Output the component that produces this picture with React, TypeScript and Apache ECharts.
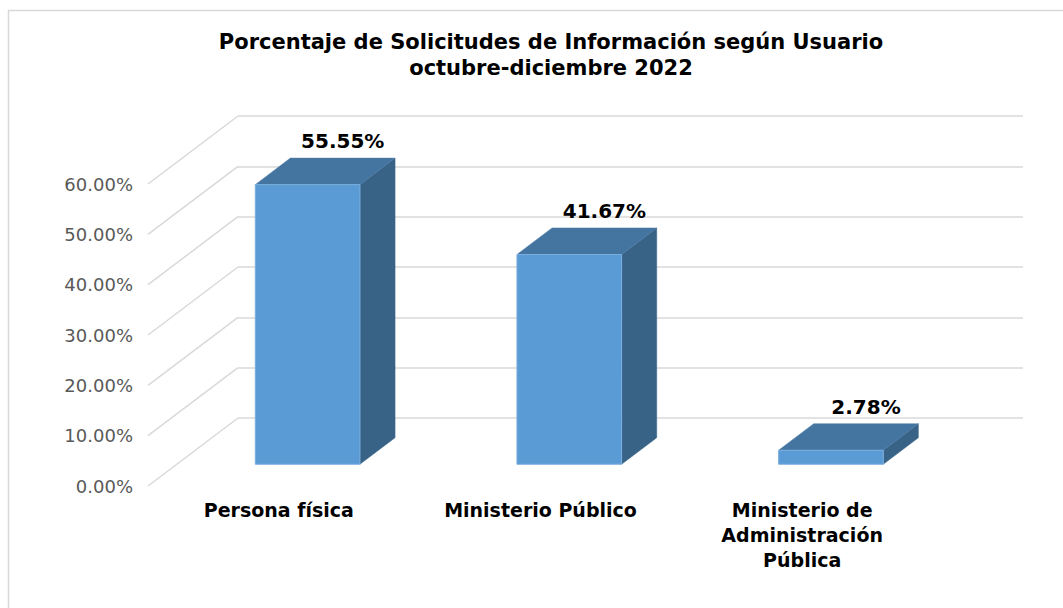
import React, { useEffect, useRef } from "react";
import * as echarts from "echarts";

const categories = ["Persona física", "Ministerio Público", "Ministerio de\nAdministración\nPública"];
const values = [55.55, 41.67, 2.78];
const yTicks = [0, 10, 20, 30, 40, 50, 60];
const titleLines = ["Porcentaje de Solicitudes de Información según Usuario", "octubre-diciembre 2022"];

const FONT = "DejaVu Sans, Verdana, sans-serif";
const DEPTH_X = 90;
const DEPTH_Y = 68;
const FRONT_F = 0.68; // bar front face: fraction of depth from back wall
const BACK_F = 0.29; // bar back face

export default function App() {
  const ref = useRef<HTMLDivElement>(null);
  useEffect(() => {
    if (!ref.current) return;
    const chart = echarts.init(ref.current, null, { renderer: "svg" });
    const option: any = {
      animation: false,
      backgroundColor: "#ffffff",
      title: {
        text: titleLines.join("\n"),
        left: 546,
        top: 24,
        textAlign: "center",
        textStyle: { fontFamily: FONT, fontWeight: "bold", fontSize: 21, lineHeight: 26, color: "#000000" },
      },
      graphic: [
        {
          type: "rect",
          shape: { x: 8.5, y: 10.5, width: 1200, height: 800 },
          style: { fill: "none", stroke: "#d9d9d9", lineWidth: 1.5 },
          silent: true,
        },
      ],
      grid: [
        { left: 238, right: 40, top: 116, bottom: 190 },
        { left: 148, right: 130, top: 184, bottom: 122 },
      ],
      xAxis: [
        {
          gridIndex: 0,
          type: "category",
          data: categories,
          axisLine: { show: false },
          axisTick: { show: false },
          axisLabel: { show: false },
        },
        {
          gridIndex: 1,
          type: "category",
          data: categories,
          axisLine: { show: false },
          axisTick: { show: false },
          axisLabel: {
            margin: 11,
            interval: 0,
            fontFamily: FONT,
            fontWeight: "bold",
            fontSize: 19,
            lineHeight: 25,
            color: "#000000",
          },
        },
      ],
      yAxis: [
        {
          gridIndex: 0,
          type: "value",
          min: 0,
          max: 60,
          interval: 10,
          axisLine: { show: false },
          axisTick: { show: false },
          axisLabel: { show: false },
          splitLine: { show: true, lineStyle: { color: "#d9d9d9", width: 1.5 } },
        },
        {
          gridIndex: 1,
          type: "value",
          min: 0,
          max: 60,
          interval: 10,
          axisLine: { show: false },
          axisTick: { show: false },
          splitLine: { show: false },
          axisLabel: {
            margin: 15,
            fontFamily: FONT,
            fontSize: 18,
            color: "#595959",
            formatter: (v: number) => v.toFixed(2) + "%",
          },
        },
      ],
      series: [
        {
          type: "custom",
          xAxisIndex: 0,
          yAxisIndex: 0,
          silent: true,
          data: yTicks.map((v) => [0, v]),
          renderItem: (params: any, api: any) => {
            const cs = params.coordSys;
            const p = api.coord([0, api.value(1)]);
            return {
              type: "line",
              shape: { x1: cs.x, y1: p[1], x2: cs.x - DEPTH_X, y2: p[1] + DEPTH_Y },
              style: { stroke: "#d9d9d9", lineWidth: 1.5 },
            };
          },
        },
        {
          type: "custom",
          xAxisIndex: 0,
          yAxisIndex: 0,
          data: values.map((v, i) => [i, v]),
          renderItem: (params: any, api: any) => {
            const i = api.value(0);
            const v = api.value(1);
            const top = api.coord([i, v]);
            const bot = api.coord([i, 0]);
            const w = api.size([1, 0])[0] * 0.4;
            const fdx = -DEPTH_X * FRONT_F;
            const fdy = DEPTH_Y * FRONT_F;
            const bdx = -DEPTH_X * BACK_F;
            const bdy = DEPTH_Y * BACK_F;
            const fx0 = top[0] + fdx - w / 2;
            const fx1 = top[0] + fdx + w / 2;
            const fyT = top[1] + fdy;
            const fyB = bot[1] + fdy;
            const bx0 = top[0] + bdx - w / 2;
            const bx1 = top[0] + bdx + w / 2;
            const byT = top[1] + bdy;
            const byB = bot[1] + bdy;
            return {
              type: "group",
              children: [
                {
                  type: "polygon",
                  shape: { points: [[fx1, fyT], [bx1, byT], [bx1, byB], [fx1, fyB]] },
                  style: { fill: "#386286", stroke: "#3d6a91", lineWidth: 0.5 },
                },
                {
                  type: "polygon",
                  shape: { points: [[fx0, fyT], [fx1, fyT], [bx1, byT], [bx0, byT]] },
                  style: { fill: "#4474a0", stroke: "#4a7aa6", lineWidth: 0.5 },
                },
                {
                  type: "rect",
                  shape: { x: fx0, y: fyT, width: w, height: fyB - fyT },
                  style: { fill: "#5b9bd5", stroke: "#79addd", lineWidth: 1 },
                },
                {
                  type: "text",
                  style: {
                    x: top[0] + bdx,
                    y: byT - 17,
                    text: v.toFixed(2) + "%",
                    textAlign: "center",
                    textVerticalAlign: "middle",
                    fontFamily: FONT,
                    fontWeight: "bold",
                    fontSize: 20,
                    fill: "#000000",
                  },
                },
              ],
            };
          },
        },
      ],
    };
    chart.setOption(option);
    return () => chart.dispose();
  }, []);
  return <div ref={ref} style={{ position: "fixed", left: 0, top: 0, width: 1063, height: 608 }} />;
}
